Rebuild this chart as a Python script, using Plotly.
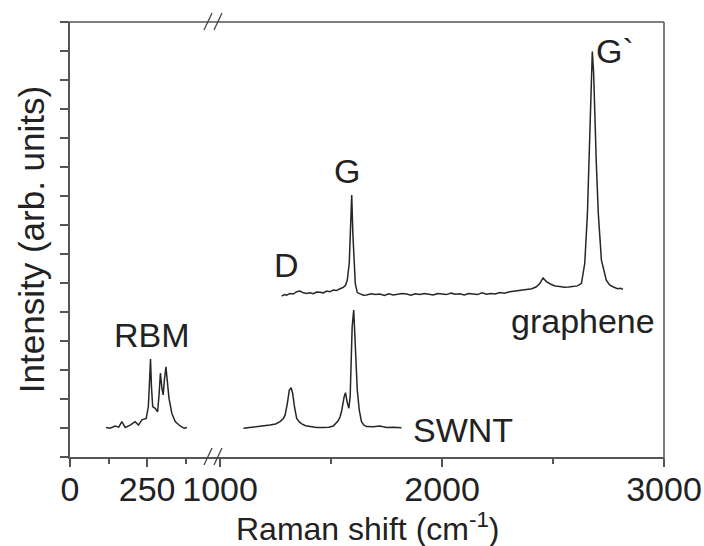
import plotly.graph_objects as go

# ---- data ----
rbm_x = [117,130,146,158,168,179,195,211,222,233,247,254,258,261,264,268,276,284,289,293,298,302,306,311,315,321,330,341,357,370,379]
rbm_y = [1.02,0.99,1.07,1.03,1.22,1.02,1.10,1.22,1.10,1.28,1.33,1.74,2.66,3.38,2.43,1.74,1.68,1.56,2.19,2.89,2.37,2.14,2.66,3.11,2.66,2.02,1.51,1.22,1.07,0.99,1.02]

swnt_x = [1105,1130,1165,1195,1225,1250,1270,1285,1293,1303,1312,1320,1327,1335,1345,1358,1368,1385,1405,1435,
          1465,1490,1510,1522,1532,1540,1547,1559,1565,1572,1580,1586,1591,1595,1602,1607,1612,1618,1627,1637,
          1648,1660,1690,1720,1735,1750,1780,1800,1817]
swnt_y = [0.99,1.01,1.05,1.06,1.10,1.14,1.22,1.33,1.45,1.85,2.31,2.39,2.19,1.74,1.33,1.20,1.14,1.08,1.05,1.02,
          1.02,1.03,1.07,1.15,1.25,1.38,1.56,2.08,2.22,1.91,1.68,2.08,3.34,4.49,5.07,4.15,3.34,2.31,1.62,1.22,
          1.10,1.05,1.04,1.07,1.04,1.02,1.03,1.02,1.01]

graphene_x = [1277,1290,1300,1315,1330,1345,1360,1375,1390,1405,1420,1435,1450,1465,1480,1495,1510,1525,1540,1555,
              1565,1573,1582,1588,1593,1598,1603,1609,1618,1630,1645,1660,1680,1700,1720,1740,1760,1780,1800,1820,
              1840,1860,1880,1900,1920,1940,1960,1980,2000,2020,2040,2060,2080,2100,2120,2140,2160,2180,2200,2220,
              2240,2260,2280,2305,2330,2355,2380,2405,2425,2440,2455,2470,2492,2510,2530,2550,2570,2590,2610,2628,
              2643,2655,2662,2668,2673,2677,2683,2688,2695,2704,2718,2740,2755,2770,2790,2805,2815]
graphene_y = [5.55,5.60,5.58,5.64,5.62,5.70,5.72,5.66,5.64,5.66,5.63,5.69,5.68,5.66,5.72,5.70,5.76,5.74,5.80,5.85,
              5.92,6.10,6.69,7.72,9.03,7.72,6.69,5.99,5.67,5.62,5.58,5.59,5.63,5.60,5.62,5.57,5.63,5.59,5.61,5.64,
              5.62,5.58,5.63,5.60,5.64,5.61,5.59,5.64,5.62,5.60,5.65,5.61,5.63,5.59,5.64,5.62,5.60,5.66,5.61,5.64,
              5.62,5.67,5.65,5.70,5.72,5.75,5.76,5.80,5.87,5.98,6.17,6.05,5.95,5.90,5.88,5.85,5.86,5.88,5.90,5.99,
              6.68,8.40,10.13,11.85,13.23,13.98,13.23,11.85,10.13,8.40,6.79,6.10,5.93,5.87,5.80,5.82,5.78]

left_ticks = [0, 250]
left_ticktext = ["0", "250"]
right_ticks = [1000, 2000, 3000]
right_ticktext = ["1000", "2000", "3000"]

labels = [
    ("G`", "x2", 2778, 14.0),
    ("G", "x2", 1571, 9.85),
    ("D", "x2", 1297, 6.62),
    ("graphene", "x2", 2633, 4.70),
    ("SWNT", "x2", 2093, 0.93),
    ("RBM", "x", 266, 4.21),
]

FONT = "Arial, 'Liberation Sans', sans-serif"
LINE = "#262626"
AX = "#555555"
FS = 34

fig = go.Figure()
for xs, ys, xa in ((rbm_x, rbm_y, "x"), (swnt_x, swnt_y, "x2"), (graphene_x, graphene_y, "x2")):
    fig.add_trace(go.Scatter(x=xs, y=ys, mode="lines", line=dict(color=LINE, width=1.5),
                             xaxis=xa, yaxis="y", showlegend=False))

split = (215 - 70) / 594.0

common_x = dict(showgrid=False, zeroline=False, showline=True, linecolor=AX, linewidth=1.5,
                ticks="outside", ticklen=8, tickwidth=1.5, tickcolor=AX, automargin=False,
                ticklabelstandoff=-7,
                tickfont=dict(family=FONT, size=FS, color="#222"))

fig.update_layout(
    width=704, height=546,
    margin=dict(l=70, r=40, t=22, b=89, autoexpand=False),
    paper_bgcolor="white", plot_bgcolor="white",
    xaxis=dict(domain=[0, split], range=[0, 470], anchor="y",
               tickmode="array", tickvals=left_ticks, ticktext=left_ticktext,
               minor=dict(tickmode="array", tickvals=[125, 375], ticklen=5, tickwidth=1.5, tickcolor=AX, ticks="outside"),
               **common_x),
    xaxis2=dict(domain=[split, 1], range=[977, 3000], anchor="y",
                tickmode="array", tickvals=right_ticks, ticktext=right_ticktext,
                minor=dict(tickmode="array", tickvals=[1500, 2500], ticklen=5, tickwidth=1.5, tickcolor=AX, ticks="outside"),
                **common_x),
    yaxis=dict(range=[0, 15], anchor="x", showgrid=False, zeroline=False, showline=True, automargin=False,
               linecolor=AX, linewidth=1.5, ticks="outside", ticklen=8, tickwidth=1.5, tickcolor=AX,
               tickmode="linear", tick0=0, dtick=1, showticklabels=False,
               title=dict(text="Intensity (arb. units)", font=dict(family=FONT, size=35, color="#222"), standoff=5)),
)

def px2paper(px):
    return (px - 70) / 594.0

shapes = [
    dict(type="line", xref="paper", yref="paper", x0=px2paper(60), x1=1, y0=1, y1=1, line=dict(color=AX, width=1.5)),
    dict(type="line", xref="paper", yref="paper", x0=1, x1=1, y0=1, y1=-8/435, line=dict(color=AX, width=1.5)),
    dict(type="line", xref="paper", yref="paper", x0=px2paper(60), x1=0, y0=0, y1=0, line=dict(color=AX, width=1.5)),
]
for ybase in (0, 1):
    for off in (0, 10):
        shapes.append(dict(type="line", xref="paper", yref="paper",
                           x0=px2paper(204 + off), x1=px2paper(212 + off),
                           y0=ybase - 8/435, y1=ybase + 9/435,
                           line=dict(color="#444", width=1.3)))
fig.update_layout(shapes=shapes)

anns = []
for text, xr, xv, yv in labels:
    anns.append(dict(text=text, x=xv, y=yv, xref=xr, yref="y", showarrow=False,
                     font=dict(family=FONT, size=FS, color="#222")))
anns.append(dict(text="Raman shift (cm<sup>-1</sup>)", x=px2paper(368), y=-70/435, xref="paper", yref="paper",
                 showarrow=False, font=dict(family=FONT, size=32, color="#222"), yanchor="middle"))
fig.update_layout(annotations=anns)

fig.write_html("out.html")
